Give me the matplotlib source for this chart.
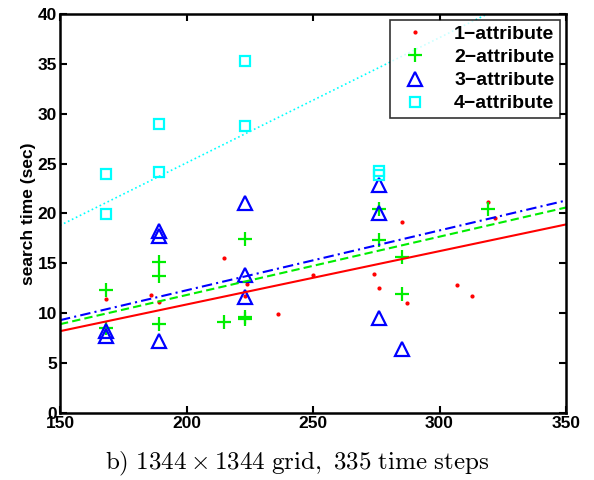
import numpy as np
import matplotlib.pyplot as plt

plt.rcParams['font.family'] = ['Liberation Sans', 'DejaVu Sans']
plt.rcParams['font.weight'] = 'bold'
plt.rcParams['mathtext.fontset'] = 'cm'

# 1-attribute (red dots)
x1 = [168, 186, 189, 215, 224, 223, 236, 250, 274, 276, 285, 287, 307, 313, 319, 322]
y1 = [11.4, 11.8, 11.1, 15.5, 12.9, 11.7, 9.9, 13.8, 13.9, 12.5, 19.1, 11.0, 12.8, 11.7, 21.1, 19.5]
# 2-attribute (green plus)
x2 = [168, 168, 189, 189, 189, 215, 223, 223, 223, 276, 276, 285, 285, 319]
y2 = [12.3, 8.5, 15.1, 13.7, 8.9, 9.1, 17.4, 9.4, 9.6, 20.4, 17.35, 15.6, 11.9, 20.4]
# 3-attribute (blue triangles)
x3 = [168, 168, 189, 189, 189, 223, 223, 223, 276, 276, 276, 285]
y3 = [8.2, 7.7, 18.2, 17.7, 7.2, 21.0, 13.8, 11.6, 22.9, 20.0, 9.5, 6.4]
# 4-attribute (cyan squares)
x4 = [168, 168, 189, 189, 223, 223, 276, 276]
y4 = [24.0, 19.9, 29.0, 24.2, 35.3, 28.8, 24.3, 23.9]

# fitted lines, value at x=150 and x=350
fit_x = [150, 350]
fit1 = [8.2, 18.9]
fit2 = [8.9, 20.6]
fit3 = [9.3, 21.3]
fit4 = [18.8, 43.9]

fig = plt.figure(figsize=(5.94, 4.8), dpi=100)
ax = fig.add_axes([0.101, 0.1396, 0.852, 0.8314])

ax.plot(x1, y1, '.', color='red', markersize=4, label='1\u2212attribute')
ax.plot(x2, y2, '+', color='#00ee00', markersize=10, markeredgewidth=1.6, label='2\u2212attribute')
ax.plot(x3, y3, '^', color='blue', markersize=10, markerfacecolor='none', markeredgewidth=1.6, label='3\u2212attribute')
ax.plot(x4, y4, 's', color='cyan', markersize=7.5, markerfacecolor='none', markeredgewidth=1.6, label='4\u2212attribute')

ax.plot(fit_x, fit1, '-', color='red', lw=1.5)
ax.plot(fit_x, fit2, '--', color='#00ee00', lw=1.5, dashes=(4, 2))
ax.plot(fit_x, fit3, '-.', color='blue', lw=1.5, dashes=(5, 2, 1, 2))
ax.plot(fit_x, fit4, ':', color='cyan', lw=1.2)

ax.set_xlim(150, 350)
ax.set_ylim(0, 40)
ax.set_xticks([150, 200, 250, 300, 350])
ax.set_yticks(range(0, 41, 5))
ax.tick_params(direction='in', length=5, width=1.5, top=True, right=True,
               labelsize=12.5, pad=2)
for s in ax.spines.values():
    s.set_linewidth(1.8)
ax.set_ylabel('search time (sec)', fontsize=12.5, fontweight='bold', labelpad=1)

leg = ax.legend(loc='upper right', fontsize=14, frameon=True, fancybox=False,
                edgecolor='black', borderaxespad=0.3, handletextpad=1.0,
                labelspacing=0.28, handlelength=2.0, borderpad=0.3)
leg.get_frame().set_linewidth(1.2)
for t in leg.get_texts():
    t.set_fontweight('bold')

fig.text(0.5, 0.021, r'$\mathrm{b)\ 1344\times1344\ grid,\ 335\ time\ steps}$',
         ha='center', va='baseline', fontsize=18)

fig.savefig('out.png', dpi=100)
